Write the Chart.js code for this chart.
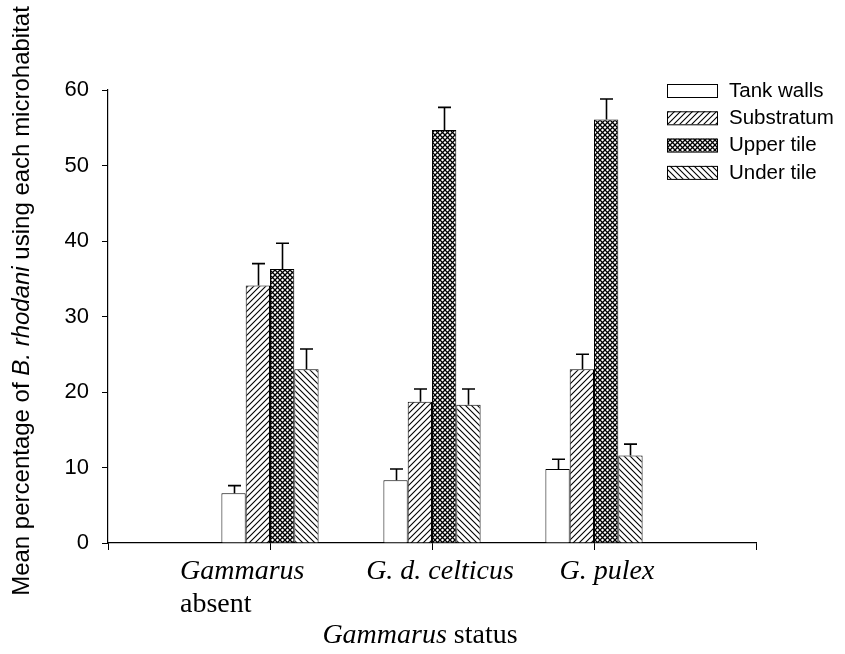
<!DOCTYPE html>
<html>
<head>
<meta charset="utf-8">
<script src="https://cdn.jsdelivr.net/npm/chart.js@4.4.0/dist/chart.umd.min.js"></script>
<style>
  body { margin: 0; background: #fff; }
  #wrap { width: 845px; height: 654px; }
</style>
</head>
<body>
<div id="wrap"><canvas id="bar-graph" width="845" height="654"></canvas></div>
<script>
// data
const categories = ['Gammarus absent', 'G. d. celticus', 'G. pulex']
const microhabitats = ['Tank walls', 'Substratum', 'Upper tile', 'Under tile']
const tankWalls = [6.6, 8.3, 9.8]
const substratum = [34.1, 18.7, 23.0]
const upperTile = [36.3, 54.7, 56.1]
const underTile = [23.0, 18.3, 11.6]
// top of the error bar (mean + SE)
const tankWallsErr = [7.6, 9.8, 11.1]
const substratumErr = [37.0, 20.4, 25.0]
const upperTileErr = [39.7, 57.7, 58.8]
const underTileErr = [25.7, 20.4, 13.1]
const yTicks = [0, 10, 20, 30, 40, 50, 60]

// hatch fills
function makePattern(kind) {
  const s = kind === 'cross' ? 5 : 6
  const c = document.createElement('canvas')
  c.width = s; c.height = s
  const g = c.getContext('2d')
  g.fillStyle = '#fff'
  g.fillRect(0, 0, s, s)
  g.strokeStyle = '#000'
  g.lineWidth = kind === 'cross' ? 1.3 : 1.1
  const fwd = () => {
    g.beginPath()
    g.moveTo(0, s); g.lineTo(s, 0)
    g.moveTo(-1, 1); g.lineTo(1, -1)
    g.moveTo(s - 1, s + 1); g.lineTo(s + 1, s - 1)
    g.stroke()
  }
  const back = () => {
    g.beginPath()
    g.moveTo(0, 0); g.lineTo(s, s)
    g.moveTo(-1, s - 1); g.lineTo(1, s + 1)
    g.moveTo(s - 1, -1); g.lineTo(s + 1, 1)
    g.stroke()
  }
  if (kind === 'fwd') fwd()
  if (kind === 'back') back()
  if (kind === 'cross') { fwd(); back() }
  return g.createPattern(c, 'repeat')
}

const ctx = document.getElementById('bar-graph').getContext('2d')
const fills = ['#ffffff', makePattern('fwd'), makePattern('cross'), makePattern('back')]
const series = [tankWalls, substratum, upperTile, underTile]
const errs = [tankWallsErr, substratumErr, upperTileErr, underTileErr]

// empty slot on each side so the groups sit on ticks 1..3
const labels = [''].concat(categories, [''])
const pad = arr => [null].concat(arr, [null])

const errorBars = {
  id: 'errorBars',
  afterDatasetsDraw(chart) {
    const c = chart.ctx
    const y = chart.scales.y
    c.save()
    c.strokeStyle = '#000'
    c.lineWidth = 1.6
    chart.data.datasets.forEach((ds, di) => {
      const meta = chart.getDatasetMeta(di)
      errs[di].forEach((e, i) => {
        const bar = meta.data[i + 1]
        const top = y.getPixelForValue(e)
        const x = Math.round(bar.x) + 0.5
        c.beginPath()
        c.moveTo(x, bar.y)
        c.lineTo(x, top)
        c.moveTo(x - 6.5, top)
        c.lineTo(x + 6.5, top)
        c.stroke()
      })
    })
    c.restore()
  }
}

// mixed italic / roman text pieces
function drawRuns(c, runs, x, y, size, family, align) {
  const widths = runs.map(r => {
    c.font = (r[1] ? 'italic ' : '') + size + 'px ' + family
    return c.measureText(r[0]).width
  })
  const total = widths.reduce((a, b) => a + b, 0)
  let cx = align === 'center' ? x - total / 2 : x
  runs.forEach((r, i) => {
    c.font = (r[1] ? 'italic ' : '') + size + 'px ' + family
    c.fillText(r[0], cx, y)
    cx += widths[i]
  })
}

const textLayer = {
  id: 'textLayer',
  afterDraw(chart) {
    const c = chart.ctx
    const x = chart.scales.x
    c.save()
    c.fillStyle = '#000'
    c.textAlign = 'left'
    c.textBaseline = 'alphabetic'
    const serif = '"Liberation Serif", "Times New Roman", serif'
    const sans = '"Liberation Sans", Arial, sans-serif'

    // category labels
    const p1 = x.getPixelForValue(1), p2 = x.getPixelForValue(2), p3 = x.getPixelForValue(3)
    drawRuns(c, [['Gammarus', true]], p1 - 90, 579, 28, serif, 'left')
    drawRuns(c, [['absent', false]], p1 - 90, 612, 28, serif, 'left')
    drawRuns(c, [[categories[1], true]], p2 + 8, 579, 28, serif, 'center')
    drawRuns(c, [[categories[2], true]], p3 + 13, 579, 28, serif, 'center')

    // axis titles
    drawRuns(c, [['Gammarus', true], [' status', false]], 420, 643, 28, serif, 'center')
    c.save()
    c.translate(29, 301)
    c.rotate(-Math.PI / 2)
    drawRuns(c, [['Mean percentage of ', false], ['B. rhodani', true], [' using each microhabitat', false]], 0, 0, 24, sans, 'center')
    c.restore()

    // legend
    c.font = '20.5px ' + sans
    c.textBaseline = 'middle'
    chart.data.datasets.forEach((ds, i) => {
      const ly = 90 + i * 27.3
      c.fillStyle = ds.backgroundColor
      c.fillRect(667, ly - 6, 50, 13)
      c.strokeStyle = '#000'
      c.lineWidth = 1
      c.strokeRect(667.5, ly - 5.5, 50, 13)
      c.fillStyle = '#000'
      c.fillText(ds.label, 729, ly + 1)
    })
    c.restore()
  }
}

const barGraph = new Chart(ctx, {
  type: 'bar',
  data: {
    labels: labels,
    datasets: microhabitats.map((name, i) => ({
      label: name,
      data: pad(series[i]),
      backgroundColor: fills[i],
      borderColor: '#000',
      borderWidth: 1,
      categoryPercentage: 0.6,
      barPercentage: 1
    }))
  },
  options: {
    responsive: false,
    animation: false,
    devicePixelRatio: 1,
    layout: { padding: { top: 90, right: 89, left: 0, bottom: 0 } },
    plugins: { legend: { display: false }, tooltip: { enabled: false } },
    scales: {
      x: {
        offset: false,
        grid: { offset: false, drawOnChartArea: false, color: '#000', tickLength: 7, tickColor: '#000' },
        border: { color: '#000', width: 1.2 },
        ticks: { display: false },
        afterFit: s => { s.height = 111 }
      },
      y: {
        min: 0,
        max: 60,
        afterBuildTicks: s => { s.ticks = yTicks.map(v => ({ value: v })) },
        grid: { drawOnChartArea: false, color: '#000', tickLength: 6, tickColor: '#000' },
        border: { color: '#000', width: 1.2 },
        ticks: { color: '#000', padding: 13, font: { family: '"Liberation Sans", Arial, sans-serif', size: 22 } },
        afterFit: s => { s.width = 108 }
      }
    }
  },
  plugins: [errorBars, textLayer]
})
</script>
</body>
</html>
